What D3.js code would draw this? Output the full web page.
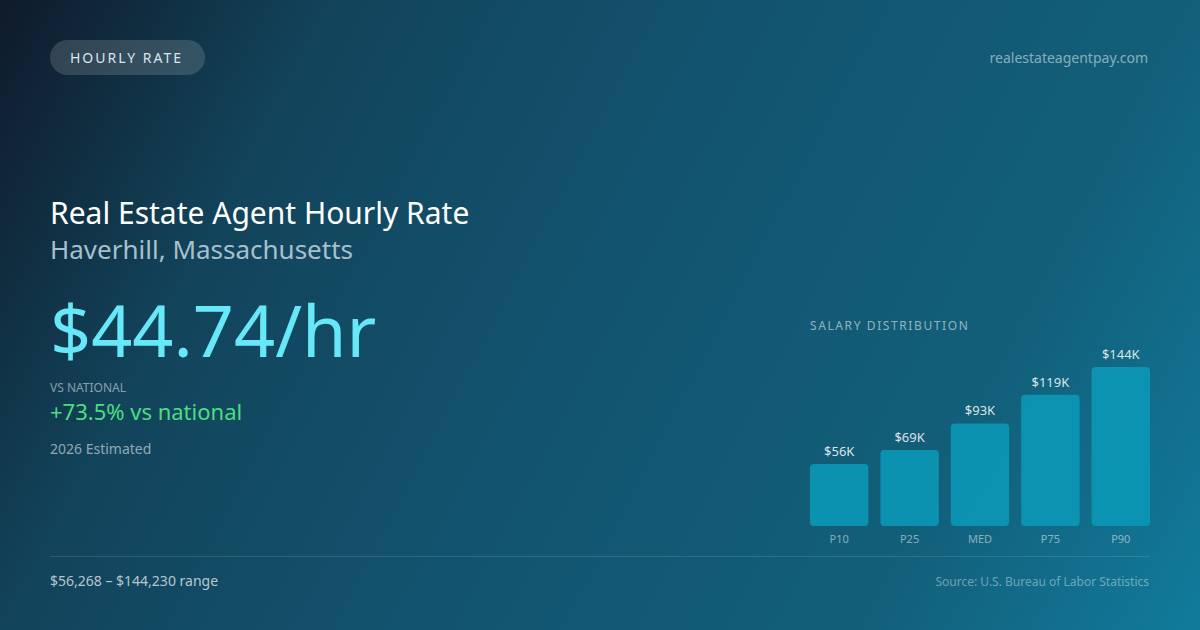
<!DOCTYPE html>
<html>
<head>
<meta charset="utf-8">
<script src="https://cdn.jsdelivr.net/npm/d3@7"></script>
<style>
  html, body { margin: 0; padding: 0; background: #0f1a2a; }
  svg { display: block; font-family: "Noto Sans", "Open Sans", sans-serif; }
</style>
</head>
<body>
<div id="chart"></div>
<script>
// chart data
const percentiles = ["P10", "P25", "MED", "P75", "P90"];
const salaries = [56268, 69000, 93059, 119000, 144230];
const salaryLabels = ["$56K", "$69K", "$93K", "$119K", "$144K"];

const hourlyRate = "$44.74/hr";
const vsNational = "+73.5% vs national";
const rangeText = "$56,268 \u2013 $144,230 range";

const width = 1200, height = 630;

const svg = d3.select("#chart").append("svg")
  .attr("width", width)
  .attr("height", height);

// background gradient
const defs = svg.append("defs");
const grad = defs.append("linearGradient")
  .attr("id", "bg")
  .attr("gradientUnits", "userSpaceOnUse")
  .attr("x1", 0).attr("y1", 0)
  .attr("x2", width).attr("y2", height);
[[0, "#0f1a2a"], [0.22, "#12445b"], [0.5, "#125470"], [0.78, "#125f7a"], [1, "#117b9b"]]
  .forEach(s => grad.append("stop").attr("offset", s[0]).attr("stop-color", s[1]));

svg.append("rect").attr("width", width).attr("height", height).attr("fill", "url(#bg)");

// pill
svg.append("rect")
  .attr("x", 50).attr("y", 40)
  .attr("width", 155).attr("height", 35)
  .attr("rx", 17.5)
  .attr("fill", "rgba(255,255,255,0.15)");
svg.append("text")
  .attr("x", 70).attr("y", 63)
  .attr("fill", "#dbe4ea")
  .attr("font-size", 14)
  .attr("letter-spacing", 2)
  .text("HOURLY RATE");

svg.append("text")
  .attr("x", 1148).attr("y", 63)
  .attr("text-anchor", "end")
  .attr("fill", "rgba(255,255,255,0.5)")
  .attr("font-size", 14)
  .text("realestateagentpay.com");

// headline block
svg.append("text")
  .attr("x", 50).attr("y", 224)
  .attr("fill", "#ffffff")
  .attr("font-size", 30)
  .text("Real Estate Agent Hourly Rate");
svg.append("text")
  .attr("x", 50).attr("y", 259)
  .attr("fill", "#a7c0cc")
  .attr("font-size", 26)
  .text("Haverhill, Massachusetts");
svg.append("text")
  .attr("x", 50).attr("y", 357)
  .attr("fill", "#67e8f9")
  .attr("font-size", 72)
  .text(hourlyRate);
svg.append("text")
  .attr("x", 50).attr("y", 392)
  .attr("fill", "rgba(255,255,255,0.5)")
  .attr("font-size", 12)
  .text("VS NATIONAL");
svg.append("text")
  .attr("x", 50).attr("y", 420)
  .attr("fill", "#4ade80")
  .attr("font-size", 22)
  .text(vsNational);
svg.append("text")
  .attr("x", 50).attr("y", 454)
  .attr("fill", "rgba(255,255,255,0.55)")
  .attr("font-size", 14)
  .text("2026 Estimated");

// salary distribution bars
const chart = { left: 810, right: 1150, top: 367, bottom: 526 };

svg.append("text")
  .attr("x", chart.left).attr("y", 330)
  .attr("fill", "rgba(255,255,255,0.55)")
  .attr("font-size", 12)
  .attr("letter-spacing", 1.6)
  .text("SALARY DISTRIBUTION");

const x = d3.scaleBand()
  .domain(percentiles)
  .range([chart.left, chart.right])
  .paddingInner(0.17)
  .paddingOuter(0);

const y = d3.scaleLinear()
  .domain([0, d3.max(salaries)])
  .range([chart.bottom, chart.top]);

const bars = svg.append("g").selectAll("g.bar")
  .data(percentiles.map((p, i) => ({ p, v: salaries[i], label: salaryLabels[i] })))
  .join("g")
  .attr("class", "bar");

bars.append("rect")
  .attr("x", d => x(d.p))
  .attr("y", d => y(d.v))
  .attr("width", x.bandwidth())
  .attr("height", d => y(0) - y(d.v))
  .attr("rx", 4)
  .attr("fill", "#0b98b6")
  .attr("fill-opacity", 0.9);

bars.append("text")
  .attr("x", d => x(d.p) + x.bandwidth() / 2)
  .attr("y", d => y(d.v) - 8)
  .attr("text-anchor", "middle")
  .attr("fill", "rgba(255,255,255,0.85)")
  .attr("font-size", 13)
  .text(d => d.label);

bars.append("text")
  .attr("x", d => x(d.p) + x.bandwidth() / 2)
  .attr("y", 543)
  .attr("text-anchor", "middle")
  .attr("fill", "rgba(255,255,255,0.5)")
  .attr("font-size", 11)
  .text(d => d.p);

// footer
svg.append("line")
  .attr("x1", 50).attr("x2", 1150)
  .attr("y1", 556.5).attr("y2", 556.5)
  .attr("stroke", "rgba(255,255,255,0.12)");
svg.append("text")
  .attr("x", 50).attr("y", 586)
  .attr("fill", "rgba(255,255,255,0.7)")
  .attr("font-size", 14)
  .text(rangeText);
svg.append("text")
  .attr("x", 1149).attr("y", 586)
  .attr("text-anchor", "end")
  .attr("fill", "rgba(255,255,255,0.4)")
  .attr("font-size", 12)
  .text("Source: U.S. Bureau of Labor Statistics");
</script>
</body>
</html>
